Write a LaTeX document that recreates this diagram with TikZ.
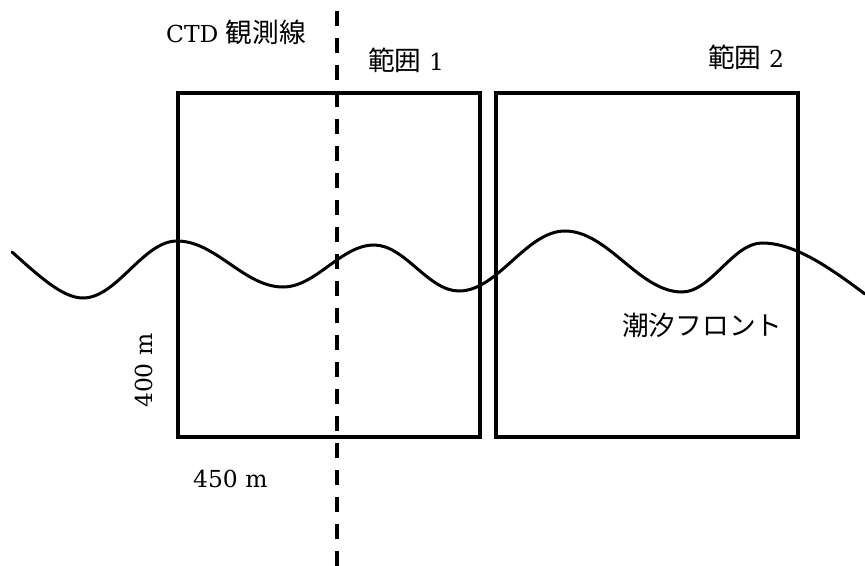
\documentclass[tikz,border=0pt]{standalone}
\usepackage{fontspec}
\setmainfont{DejaVu Serif}
\newfontfamily\cjk{Noto Sans CJK JP}
\newcommand\jptxt[1]{{\fontsize{26.8}{30}\selectfont\cjk #1}}
\begin{document}
\begin{tikzpicture}[x=1bp,y=-1bp,
  lbl/.style={inner sep=0pt,anchor=base west,font=\fontsize{23.5}{28}\selectfont},
  box/.style={draw=black,line width=4.5bp},
  wave/.style={draw=black,line width=3bp,line cap=round},
  ctdline/.style={draw=black,line width=4bp,dash pattern=on 15bp off 12bp}]
\useasboundingbox (0,0) rectangle (865,566);
% coordinates
\coordinate (A1) at (178,93);
\coordinate (A2) at (480,437);
\coordinate (B1) at (496,93);
\coordinate (B2) at (798,437);
\coordinate (ctdtop) at (337,11);
\coordinate (ctdbot) at (337,566);
\coordinate (w0) at (12,252);
\coordinate (w1) at (83,298);
\coordinate (w2) at (177,241);
\coordinate (w3) at (283,287);
\coordinate (w4) at (374,245);
\coordinate (w5) at (459,291);
\coordinate (w6) at (565,231);
\coordinate (w7) at (682,292);
\coordinate (w8) at (762,243);
\coordinate (w9) at (865,294);
% boxes
\draw[box] (A1) rectangle (A2);
\draw[box] (B1) rectangle (B2);
% CTD line
\draw[ctdline] (ctdtop) -- (ctdbot);
% wave (tidal front)
\draw[wave] (w0) .. controls (38,275) and (62,298) .. (w1)
  .. controls (117,298) and (143,241) .. (w2)
  .. controls (216,241) and (244,287) .. (w3)
  .. controls (316,287) and (341,245) .. (w4)
  .. controls (405,245) and (428,291) .. (w5)
  .. controls (498,291) and (526,231) .. (w6)
  .. controls (608,231) and (639,292) .. (w7)
  .. controls (711,292) and (733,243) .. (w8)
  .. controls (795,243) and (830,268) .. (w9);
% labels
\node[lbl] (ctd) at (166,43) {CTD \jptxt{観測線}};
\node[lbl] (r1) at (368,71) {\jptxt{範囲} 1};
\node[lbl] (r2) at (708,68) {\jptxt{範囲} 2};
\node[lbl] (front) at (622,335) {\jptxt{潮汐フロント}};
\node[lbl] (w450) at (193,487) {450 m};
\node[lbl,rotate=90] (h400) at (152,408) {400 m};
\end{tikzpicture}
\end{document}
